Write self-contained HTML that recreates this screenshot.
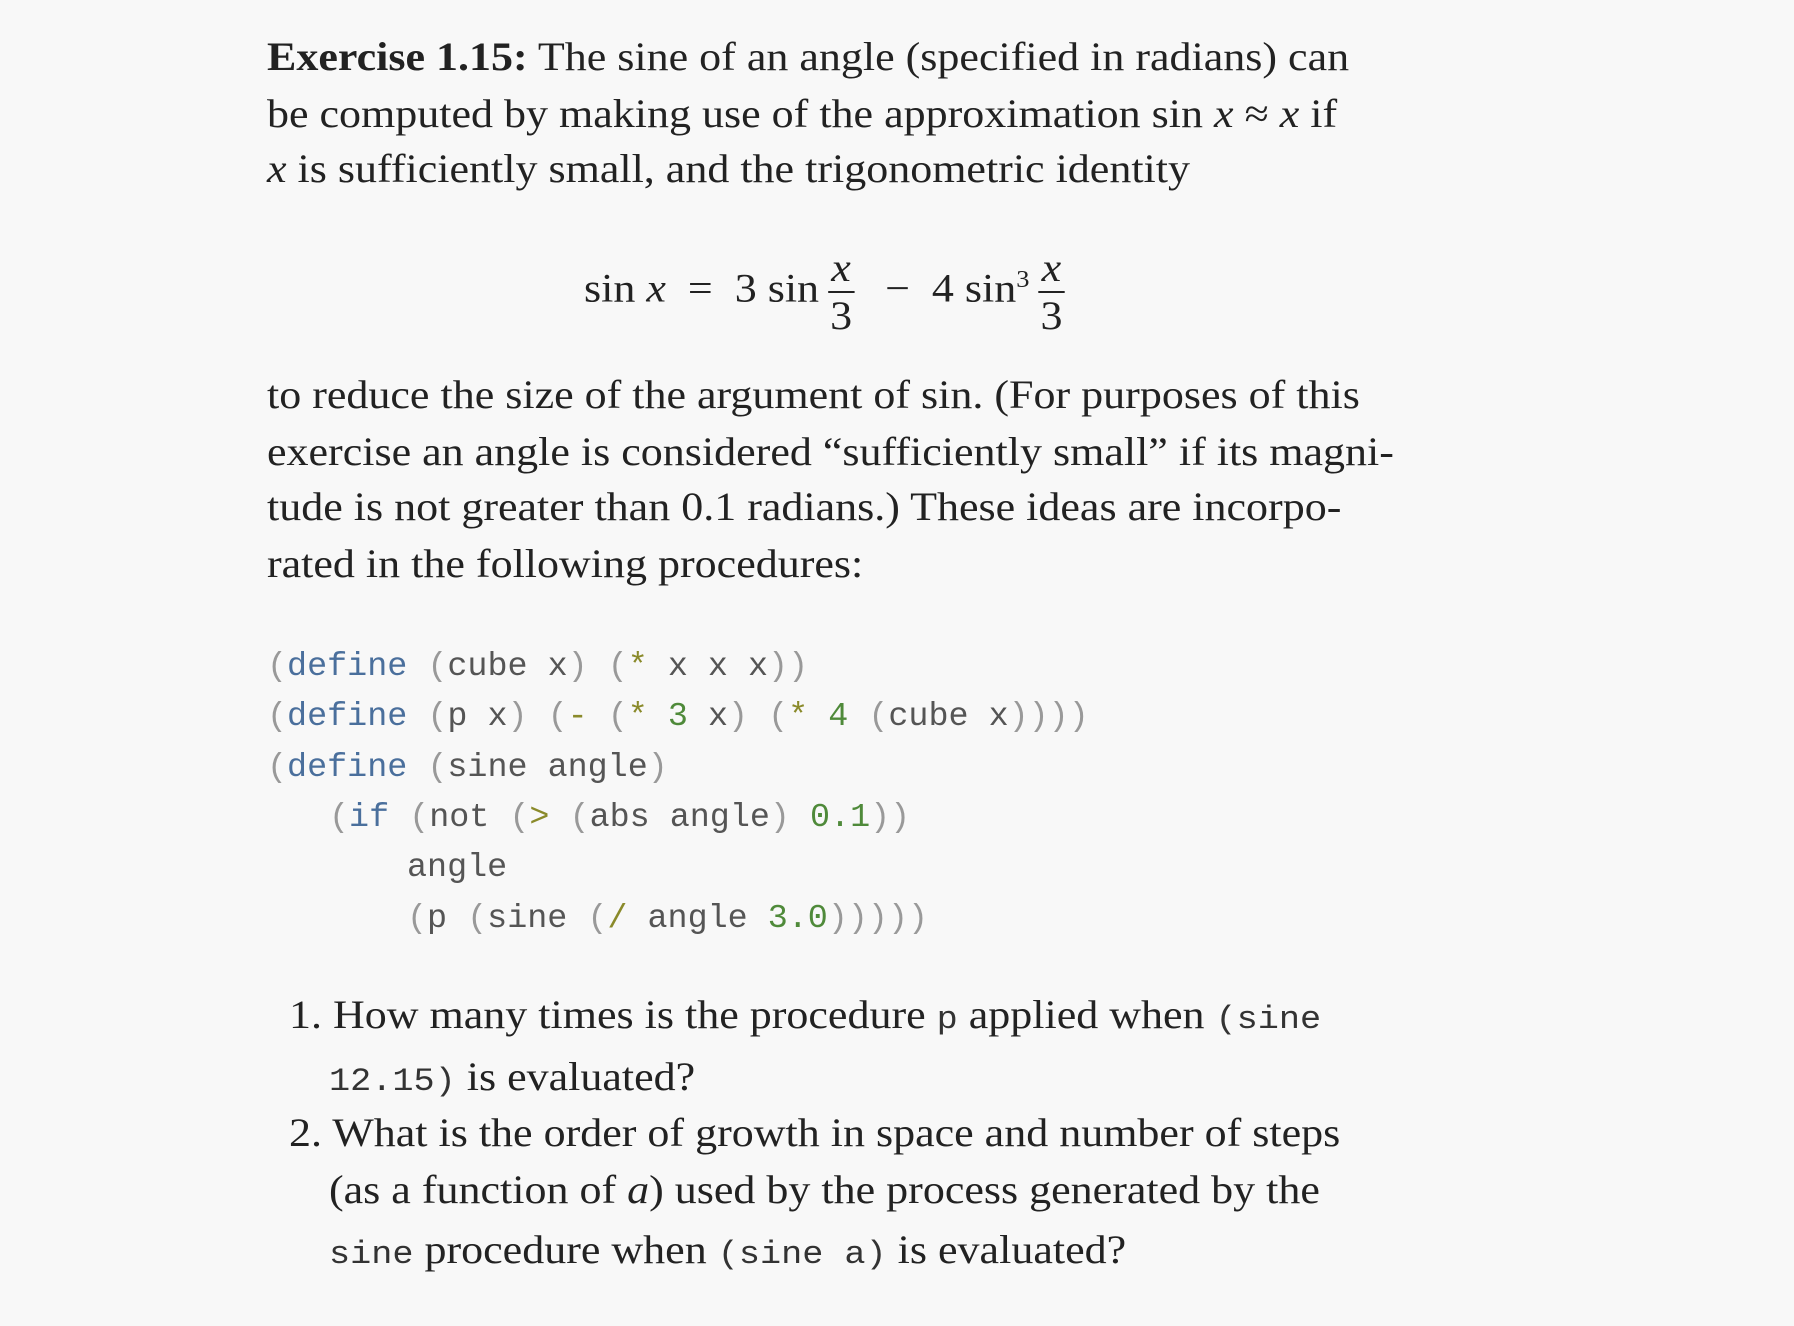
<!DOCTYPE html>
<html><head><meta charset="utf-8"><style>
body{margin:0;background:#f8f8f8;width:1794px;height:1326px;position:relative;overflow:hidden;color:#222;}
.t{position:absolute;left:267px;font-family:"Liberation Serif",serif;font-size:40px;line-height:56px;white-space:nowrap;transform:scaleX(1.1);transform-origin:0 50%;}
.c{position:absolute;font-family:"Liberation Mono",monospace;font-size:33.4px;line-height:50px;white-space:nowrap;color:#555;}
.p{color:#999}.k{color:#4a6f9c}.o{color:#8a8a2a}.n{color:#4f8a3a}
.m{font-family:"Liberation Mono",monospace;font-size:32px;color:#333}
i{font-style:italic}
.frac{display:inline-block;vertical-align:middle;text-align:center;margin:0 8px}
.frac span{display:block;line-height:46px;padding:0 2px}
.frac .num{border-bottom:2px solid #222}
</style></head><body>
<div class="t" style="top:29px"><b>Exercise 1.15:</b> The sine of an angle (specified in radians) can</div>
<div class="t" style="top:86px">be computed by making use of the approximation sin <i>x</i> ≈ <i>x</i> if</div>
<div class="t" style="top:141px"><i>x</i> is sufficiently small, and the trigonometric identity</div>
<div class="t" style="top:232px;left:584px;line-height:96px">sin <i>x</i> &nbsp;= &nbsp;3 sin<span class="frac"><span class="num"><i>x</i></span><span>3</span></span> &nbsp;− &nbsp;4 sin<sup style="font-size:24px">3</sup><span class="frac"><span class="num"><i>x</i></span><span>3</span></span></div>
<div class="t" style="top:367px">to reduce the size of the argument of sin. (For purposes of this</div>
<div class="t" style="top:424px">exercise an angle is considered “sufficiently small” if its magni-</div>
<div class="t" style="top:479px">tude is not greater than 0.1 radians.) These ideas are incorpo-</div>
<div class="t" style="top:536px">rated in the following procedures:</div>
<div class="c" style="left:267px;top:642px"><span class="p">(</span><span class="k">define</span> <span class="p">(</span>cube x<span class="p">)</span> <span class="p">(</span><span class="o">*</span> x x x<span class="p">))</span></div>
<div class="c" style="left:267px;top:692px"><span class="p">(</span><span class="k">define</span> <span class="p">(</span>p x<span class="p">)</span> <span class="p">(</span><span class="o">-</span> <span class="p">(</span><span class="o">*</span> <span class="n">3</span> x<span class="p">)</span> <span class="p">(</span><span class="o">*</span> <span class="n">4</span> <span class="p">(</span>cube x<span class="p">))))</span></div>
<div class="c" style="left:267px;top:743px"><span class="p">(</span><span class="k">define</span> <span class="p">(</span>sine angle<span class="p">)</span></div>
<div class="c" style="left:329px;top:793px"><span class="p">(</span><span class="k">if</span> <span class="p">(</span>not <span class="p">(</span><span class="o">&gt;</span> <span class="p">(</span>abs angle<span class="p">)</span> <span class="n">0.1</span><span class="p">))</span></div>
<div class="c" style="left:407px;top:843px">angle</div>
<div class="c" style="left:407px;top:894px"><span class="p">(</span>p <span class="p">(</span>sine <span class="p">(</span><span class="o">/</span> angle <span class="n">3.0</span><span class="p">)))))</span></div>
<div class="t" style="left:289px;top:987px">1. How many times is the procedure <span class="m">p</span> applied when <span class="m">(sine</span></div>
<div class="t" style="left:329px;top:1049px"><span class="m">12.15)</span> is evaluated?</div>
<div class="t" style="left:289px;top:1105px">2. What is the order of growth in space and number of steps</div>
<div class="t" style="left:329px;top:1162px">(as a function of <i>a</i>) used by the process generated by the</div>
<div class="t" style="left:329px;top:1222px"><span class="m">sine</span> procedure when <span class="m">(sine a)</span> is evaluated?</div>
</body></html>
